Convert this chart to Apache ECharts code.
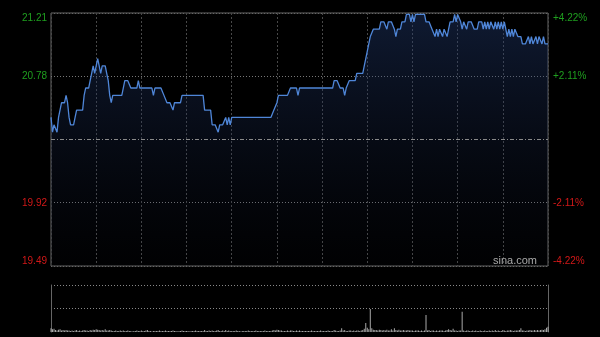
<!DOCTYPE html>
<html><head><meta charset="utf-8">
<script src="https://cdn.jsdelivr.net/npm/echarts@6/dist/echarts.min.js"></script>
<style>html,body{margin:0;padding:0;background:#000;}#c{width:600px;height:337px;}</style>
</head><body><div id="c"></div>
<script>
const prevClose = 20.35;
const priceMin = 19.49, priceMax = 21.21, priceStep = 0.43;
const pctMax = 4.22, pctStep = 2.11;
const watermark = 'sina.com';

const prices = [
20.50,20.40,20.45,20.45,20.40,20.50,20.50,20.60,20.60,20.60,
20.65,20.60,20.50,20.45,20.45,20.45,20.50,20.55,20.55,20.55,
20.55,20.55,20.65,20.70,20.70,20.70,20.75,20.80,20.85,20.80,
20.85,20.90,20.85,20.80,20.85,20.85,20.85,20.80,20.75,20.65,
20.60,20.65,20.65,20.65,20.65,20.65,20.65,20.65,20.70,20.75,
20.75,20.75,20.75,20.70,20.70,20.70,20.70,20.70,20.75,20.70,
20.70,20.70,20.70,20.70,20.70,20.70,20.70,20.70,20.65,20.70,
20.70,20.70,20.70,20.70,20.70,20.65,20.65,20.60,20.60,20.60,
20.60,20.55,20.60,20.60,20.60,20.60,20.60,20.65,20.65,20.65,
20.65,20.65,20.65,20.65,20.65,20.65,20.65,20.65,20.65,20.65,
20.65,20.65,20.55,20.55,20.55,20.55,20.55,20.45,20.45,20.45,
20.45,20.40,20.45,20.45,20.45,20.45,20.50,20.45,20.50,20.45,
20.50,20.50,20.50,20.50,20.50,20.50,20.50,20.50,20.50,20.50,
20.50,20.50,20.50,20.50,20.50,20.50,20.50,20.50,20.50,20.50,
20.50,20.50,20.50,20.50,20.50,20.50,20.50,20.50,20.55,20.55,
20.60,20.65,20.65,20.65,20.65,20.65,20.65,20.65,20.65,20.70,
20.70,20.70,20.70,20.70,20.65,20.70,20.70,20.70,20.70,20.70,
20.70,20.70,20.70,20.70,20.70,20.70,20.70,20.70,20.70,20.70,
20.70,20.70,20.70,20.70,20.70,20.70,20.70,20.70,20.75,20.75,
20.75,20.75,20.70,20.70,20.70,20.65,20.70,20.70,20.75,20.75,
20.75,20.75,20.75,20.80,20.80,20.80,20.80,20.80,20.85,20.90,
20.90,21.00,21.05,21.05,21.10,21.10,21.10,21.10,21.10,21.15,
21.15,21.15,21.15,21.10,21.15,21.15,21.15,21.15,21.10,21.05,
21.10,21.10,21.10,21.15,21.15,21.15,21.20,21.20,21.20,21.15,
21.20,21.15,21.20,21.20,21.20,21.20,21.20,21.20,21.20,21.15,
21.15,21.15,21.15,21.10,21.10,21.05,21.10,21.05,21.10,21.10,
21.05,21.10,21.10,21.05,21.10,21.15,21.15,21.15,21.20,21.15,
21.20,21.20,21.15,21.10,21.15,21.15,21.10,21.15,21.15,21.15,
21.15,21.10,21.10,21.10,21.15,21.15,21.15,21.10,21.15,21.10,
21.15,21.10,21.15,21.15,21.10,21.15,21.10,21.15,21.10,21.15,
21.10,21.15,21.15,21.05,21.10,21.05,21.10,21.05,21.10,21.10,
21.05,21.05,21.05,21.00,21.00,21.00,21.00,21.05,21.00,21.05,
21.00,21.00,21.05,21.00,21.05,21.05,21.00,21.05,21.00,21.00,
21.00
];

const volumes = [
8,6,7,4,3,5,6,3,4,3,
4,3,3,2,3,2,3,4,2,3,
2,3,4,3,3,2,4,3,5,4,
6,5,4,3,4,3,6,3,3,4,
3,2,2,3,2,2,3,2,3,2,
2,3,2,2,1,2,2,3,2,2,
3,2,2,3,4,2,2,1,2,2,
2,2,3,2,2,2,3,2,2,2,
2,3,2,2,1,2,2,3,2,2,
2,2,1,2,2,2,3,2,2,2,
2,2,4,2,2,3,2,3,2,2,
3,4,2,2,3,2,4,2,3,2,
2,2,2,3,2,2,1,2,2,2,
2,3,2,2,2,2,3,2,2,2,
2,2,3,2,2,2,2,3,4,3,
5,4,3,3,2,2,2,3,2,3,
3,2,2,3,2,3,2,2,2,2,
2,2,2,3,2,2,2,2,2,3,
2,2,2,2,3,2,2,2,4,3,
2,2,3,8,3,4,2,2,3,3,
2,3,2,3,3,2,3,4,7,19,
9,6,49,8,5,4,4,3,5,4,
3,4,3,5,3,3,6,3,8,4,
3,5,3,3,4,3,3,4,3,3,
3,2,3,3,3,2,3,2,3,36,
3,4,2,3,3,2,3,2,3,3,
3,2,3,4,6,4,3,7,3,3,
2,3,3,43,3,2,3,3,2,2,
3,2,3,2,2,3,2,2,3,2,
2,3,2,3,2,4,2,3,2,2,
4,3,2,3,3,4,3,2,3,3,
3,4,8,3,3,2,3,3,4,3,
3,4,3,4,3,4,5,4,6,9,
11
];

function pad(n){return (n<10?'0':'')+n;}
function buildTimes(){
  const t = [];
  for (let m = 570; m < 720; m++) t.push(pad(Math.floor(m/60)) + ':' + pad(m%60));
  for (let m = 780; m <= 960; m++) t.push(pad(Math.floor(m/60)) + ':' + pad(m%60));
  return t;
}
const times = buildTimes();

const GREEN = '#1f9f1f', RED = '#d21818';
const font = 'Liberation Sans';
const chart = echarts.init(document.getElementById('c'));
chart.setOption({
  animation: false,
  backgroundColor: '#000',
  grid: [
    {left: 51, top: 13, width: 497, height: 253, show: true, borderColor: '#666', borderWidth: 1, backgroundColor: 'transparent'},
    {left: 51, top: 285, width: 497, height: 47}
  ],
  xAxis: [
    {type: 'category', gridIndex: 0, data: times, boundaryGap: false,
     axisLine: {show: false}, axisTick: {show: false}, axisLabel: {show: false},
     splitLine: {show: true, interval: (i) => i % 30 === 0, lineStyle: {color: '#484848', type: [2, 2], width: 1}}},
    {type: 'category', gridIndex: 1, data: times, boundaryGap: false,
     axisLine: {show: false}, axisTick: {show: false}, axisLabel: {show: false}, splitLine: {show: false}}
  ],
  yAxis: [
    {type: 'value', gridIndex: 0, min: priceMin, max: priceMax, interval: priceStep, position: 'left',
     axisLine: {show: false}, axisTick: {show: false},
     axisLabel: {fontSize: 10, fontFamily: font, margin: 4,
       verticalAlignMinLabel: 'bottom', verticalAlignMaxLabel: 'top',
       formatter: (v) => Math.abs(v - prevClose) < 1e-6 ? '' : Number(v).toFixed(2),
       color: (v) => Number(v) > prevClose + 1e-6 ? GREEN : (Number(v) < prevClose - 1e-6 ? RED : '#ccc')},
     splitLine: {show: true, lineStyle: {color: ['#666', '#777', 'rgba(0,0,0,0)', '#777', '#666'], type: [1, 2], width: 1}}},
    {type: 'value', gridIndex: 0, min: -pctMax, max: pctMax, interval: pctStep, position: 'right',
     axisLine: {show: false}, axisTick: {show: false}, splitLine: {show: false},
     axisLabel: {fontSize: 10, fontFamily: font, margin: 5,
       verticalAlignMinLabel: 'bottom', verticalAlignMaxLabel: 'top',
       formatter: (v) => v > 1e-6 ? '+' + Number(v).toFixed(2) + '%' : (v < -1e-6 ? Number(v).toFixed(2) + '%' : ''),
       color: (v) => Number(v) > 1e-6 ? GREEN : (Number(v) < -1e-6 ? RED : '#ccc')}},
    {type: 'value', gridIndex: 1, min: 0, max: 100, interval: 50, position: 'left',
     axisLine: {show: true, lineStyle: {color: '#666', width: 1}}, axisTick: {show: false}, axisLabel: {show: false},
     splitLine: {show: true, showMinLine: false, lineStyle: {color: '#888', type: [1, 2], width: 1}}},
    {type: 'value', gridIndex: 1, min: 0, max: 100, interval: 50, position: 'right',
     axisLine: {show: true, lineStyle: {color: '#666', width: 1}}, axisTick: {show: false}, axisLabel: {show: false},
     splitLine: {show: false}}
  ],
  series: [
    {type: 'line', xAxisIndex: 0, yAxisIndex: 0, data: prices, symbol: 'none', z: 3,
     lineStyle: {color: '#4f86d8', width: 1.3},
     areaStyle: {color: new echarts.graphic.LinearGradient(0, 0, 0, 1, [
       {offset: 0, color: 'rgba(36,62,118,0.6)'},
       {offset: 1, color: 'rgba(20,30,60,0.06)'}])},
     markLine: {silent: true, symbol: 'none', label: {show: false},
       lineStyle: {color: '#8a8a8a', type: [4, 2, 1, 2], width: 1},
       data: [{yAxis: prevClose}]}},
    {type: 'bar', xAxisIndex: 1, yAxisIndex: 2, data: volumes, barWidth: 1,
     itemStyle: {color: '#aaa'}}
  ],
  graphic: [
    {type: 'text', right: 63, top: 255, z: 10,
     style: {text: watermark, fill: '#aaa', font: '11px ' + font}}
  ]
});
</script>
</body></html>
